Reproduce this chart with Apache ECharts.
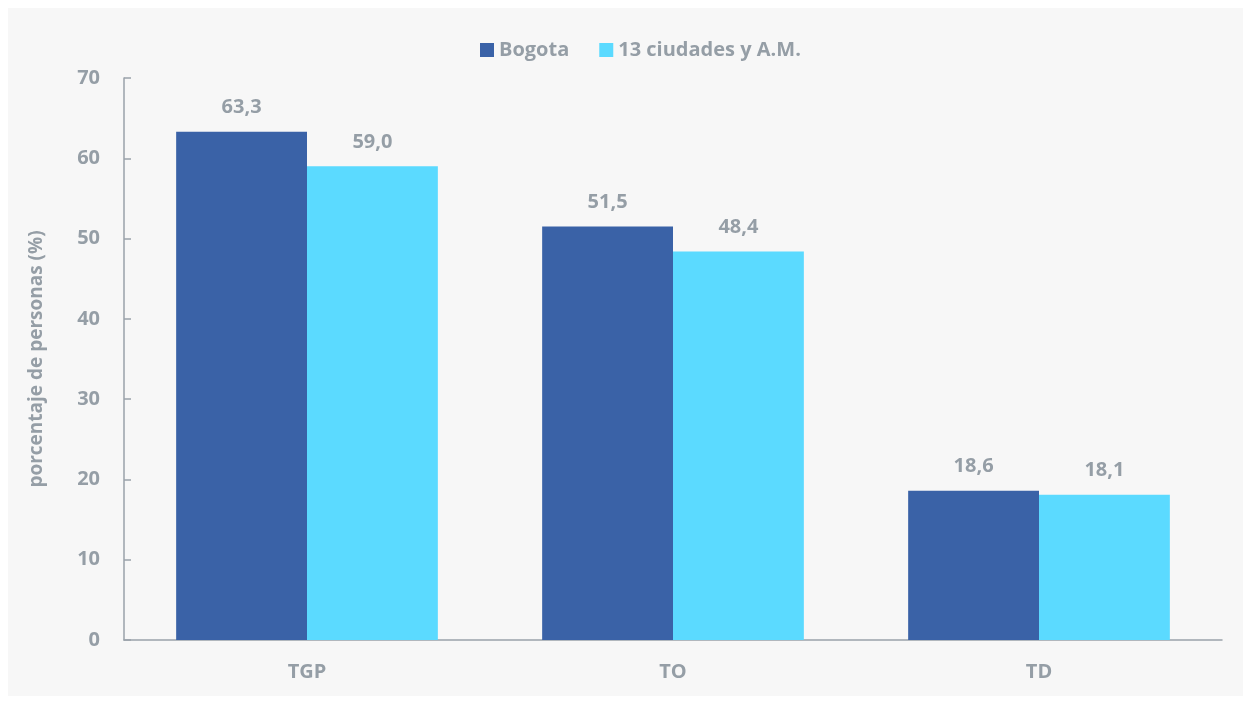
<!DOCTYPE html>
<html><head><meta charset="utf-8">
<script src="https://cdn.jsdelivr.net/npm/echarts@6/dist/echarts.min.js"></script>
<style>
html,body{margin:0;padding:0;background:#ffffff;}
#c{position:absolute;left:8px;top:8px;width:1235px;height:688px;}
</style></head>
<body><div id="c"></div>
<script>
const categories = ['TGP', 'TO', 'TD'];
const bogota = [63.3, 51.5, 18.6];
const ciudades = [59.0, 48.4, 18.1];
const seriesNames = ['Bogota', '13 ciudades y A.M.'];
const yTicks = {min: 0, max: 70, interval: 10};

const txt = '#959ea6';
const font = 'Open Sans';
const chart = echarts.init(document.getElementById('c'));
const lbl = {show: true, position: 'top', distance: 14, color: txt, fontFamily: font, fontWeight: 'bold', fontSize: 20,
  formatter: p => p.value.toFixed(1).replace('.', ',')};
chart.setOption({
  backgroundColor: '#f7f7f7',
  animation: false,
  legend: {
    left: 467, top: 27, itemWidth: 14, itemHeight: 14, itemGap: 30, icon: 'rect',
    textStyle: {color: txt, fontFamily: font, fontWeight: 'bold', fontSize: 20, padding: [0, 0, 0, 0]},
    data: seriesNames
  },
  grid: {left: 116, top: 70, right: 21, bottom: 56, containLabel: false},
  xAxis: {
    type: 'category', data: categories,
    axisLine: {lineStyle: {color: '#9aa2aa', width: 1.5}},
    axisTick: {show: false},
    axisLabel: {color: txt, fontFamily: font, fontWeight: 'bold', fontSize: 20, margin: 22}
  },
  yAxis: {
    type: 'value', min: yTicks.min, max: yTicks.max, interval: yTicks.interval,
    name: 'porcentaje de personas (%)', nameLocation: 'middle', nameGap: 78,
    nameTextStyle: {color: txt, fontFamily: font, fontWeight: 'bold', fontSize: 19},
    axisLine: {show: true, lineStyle: {color: '#9aa2aa', width: 1.5}},
    axisTick: {show: true, inside: true, length: 7, lineStyle: {color: '#9aa2aa', width: 1.5}},
    splitLine: {show: false},
    axisLabel: {color: txt, fontFamily: font, fontWeight: 'bold', fontSize: 20, margin: 24}
  },
  series: [
    {name: seriesNames[0], type: 'bar', data: bogota, barGap: '0%', barCategoryGap: '28.5%',
     itemStyle: {color: '#3a62a7'}, label: lbl},
    {name: seriesNames[1], type: 'bar', data: ciudades,
     itemStyle: {color: '#5bdaff'}, label: lbl}
  ]
});
</script></body></html>
